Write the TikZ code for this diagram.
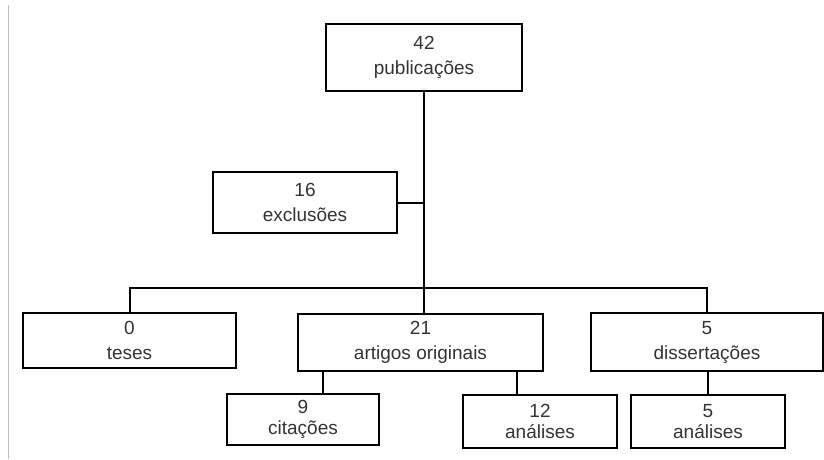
\documentclass[tikz,border=0pt]{standalone}
\usepackage{fontspec}
\setmainfont{Liberation Sans}
\begin{document}
\begin{tikzpicture}[x=1pt,y=-1pt]
    \tikzstyle{box}=[draw,line width=2pt,align=center,text=black!80,inner sep=0pt,font=\fontsize{19}{25}\selectfont]
    \tikzstyle{leaf}=[box,font=\fontsize{19}{21}\selectfont]
    \tikzstyle{link}=[line width=2pt]
    \useasboundingbox (0,0) rectangle (824,459);
    \draw[black!25,line width=1pt] (8,5) -- (8,459);

    \node[box,minimum width=196,minimum height=67] (pub) at (424,57.5) {42\\publicações};
    \node[box,minimum width=184,minimum height=61] (excl) at (305,202.5) {16\\exclusões};

    \node[box,minimum width=213,minimum height=55] (teses) at (129.5,340.5) {0\\teses};
    \node[box,minimum width=245,minimum height=57] (artigos) at (420.5,342) {21\\artigos originais};
    \node[box,minimum width=232,minimum height=58] (diss) at (707,342) {5\\dissertações};

    \node[leaf,minimum width=152,minimum height=51] (cit) at (303,419.5) {9\\citações};
    \node[leaf,minimum width=154,minimum height=53] (anal1) at (540,421.5) {12\\análises};
    \node[leaf,minimum width=154,minimum height=53] (anal2) at (708,421.5) {5\\análises};

    \coordinate (junc) at (424,288);
    \draw[link] (pub.south) -- (pub.south |- artigos.north);
    \draw[link] (excl.east) -- (excl.east -| pub.south);
    \draw[link] (teses.north) |- (junc) -| (diss.north);
    \draw[link] ([xshift=20pt]cit.north) -- ([xshift=20pt]cit.north |- artigos.south);
    \draw[link] ([xshift=-23pt]anal1.north) -- ([xshift=-23pt]anal1.north |- artigos.south);
    \draw[link] (anal2.north) -- (anal2.north |- diss.south);
\end{tikzpicture}
\end{document}
